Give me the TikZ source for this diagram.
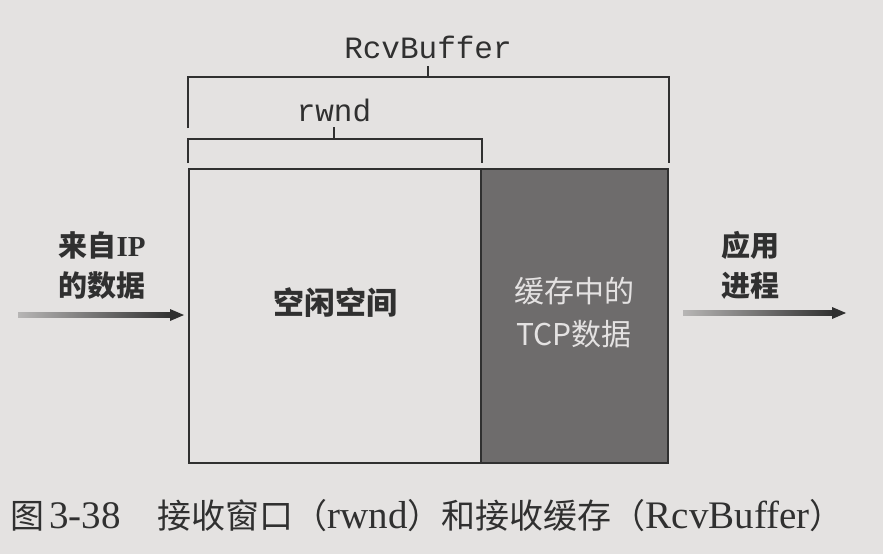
\documentclass[tikz,border=0pt]{standalone}
\usepackage{fontspec}
\setmainfont{Liberation Serif}
\setmonofont{Liberation Mono}
\newfontfamily\cjk{Noto Sans CJK SC}
\definecolor{paper}{HTML}{E4E2E1}
\definecolor{ink}{HTML}{303030}
\definecolor{bufgray}{HTML}{6E6C6C}
\definecolor{buftext}{HTML}{E4E2E2}
\newcommand\capcjk[1]{{\cjk\fontsize{34}{34}\selectfont #1}}
\begin{document}
\begin{tikzpicture}[x=1pt,y=-1pt,
  frame/.style={draw=ink, line width=1.8pt, inner sep=0pt, minimum height=294pt},
  bracket/.style={draw=ink, line width=1.5pt},
  monolabel/.style={text=ink, inner sep=0pt, font=\ttfamily\fontsize{31}{31}\selectfont},
  sidelabel/.style={text=ink, align=center, inner sep=0pt, font=\cjk\bfseries\fontsize{29}{40}\selectfont},
  freelabel/.style={text=ink, inner sep=0pt, font=\cjk\bfseries\fontsize{31}{31}\selectfont},
  buflabel/.style={text=buftext, align=center, inner sep=0pt, font=\cjk\fontsize{30}{43}\selectfont},
  captext/.style={text=ink, inner sep=0pt, anchor=west, font=\fontsize{39}{39}\selectfont},
  arrowhead/.style={fill=ink},
  shaft/.style={left color=ink!25!paper, right color=ink},
]
% page
\fill[paper] (0,0) rectangle (883,554);
\useasboundingbox (0,0) rectangle (883,554);

% receive buffer: free space and buffered data
\node[frame, fill=paper, minimum width=292pt] (free) at (335,316) {};
\node[frame, fill=bufgray, minimum width=187pt] (buf) at (574.5,316) {};
\node[freelabel] (freetxt) at (335,303) {空闲空间};
\node[buflabel] (buftxt) at (574,313) {缓存中的\\TCP数据};

% RcvBuffer bracket
\coordinate (rbL) at (free.west |- 0,128);
\coordinate (rbR) at (buf.east |- 0,163);
\coordinate (rbTop) at (428,77);
\draw[bracket] (rbL) |- (rbTop) -| (rbR);
\draw[bracket] (rbTop) -- ++(0,-11) coordinate (rbTick);
\node[monolabel] (rcvbuf) at (428,47) {RcvBuffer};

% rwnd bracket
\coordinate (rwL) at (free.west |- 0,163);
\coordinate (rwR) at (free.east |- 0,163);
\coordinate (rwTop) at (334,139);
\draw[bracket] (rwL) |- (rwTop) -| (rwR);
\draw[bracket] (rwTop) -- ++(0,-12) coordinate (rwTick);
\node[monolabel] (rwnd) at (334,110) {rwnd};

% incoming data arrow
\node[sidelabel] (src) at (102,266) {来自{\rmfamily\bfseries IP}\\的数据};
\coordinate (inA) at (18,315);
\coordinate (inB) at (184,315);
\shade[shaft] ([yshift=2.5pt]inA) rectangle ([xshift=-12pt,yshift=-2.5pt]inB);
\fill[arrowhead] (inB) -- ++(-14,-6) -- ++(0,12) -- cycle;

% outgoing data arrow
\node[sidelabel] (app) at (750,265) {应用\\进程};
\coordinate (outA) at (683,313);
\coordinate (outB) at (846,313);
\shade[shaft] ([yshift=2.5pt]outA) rectangle ([xshift=-12pt,yshift=-2.5pt]outB);
\fill[arrowhead] (outB) -- ++(-14,-6) -- ++(0,12) -- cycle;

% caption
\node[captext] (cap) at (10,516) {\capcjk{图}\hspace{5pt}3-38\hspace{37pt}\capcjk{接收窗口（}rwnd\capcjk{）和接收缓存（}RcvBuffer\capcjk{）}};
\end{tikzpicture}
\end{document}
